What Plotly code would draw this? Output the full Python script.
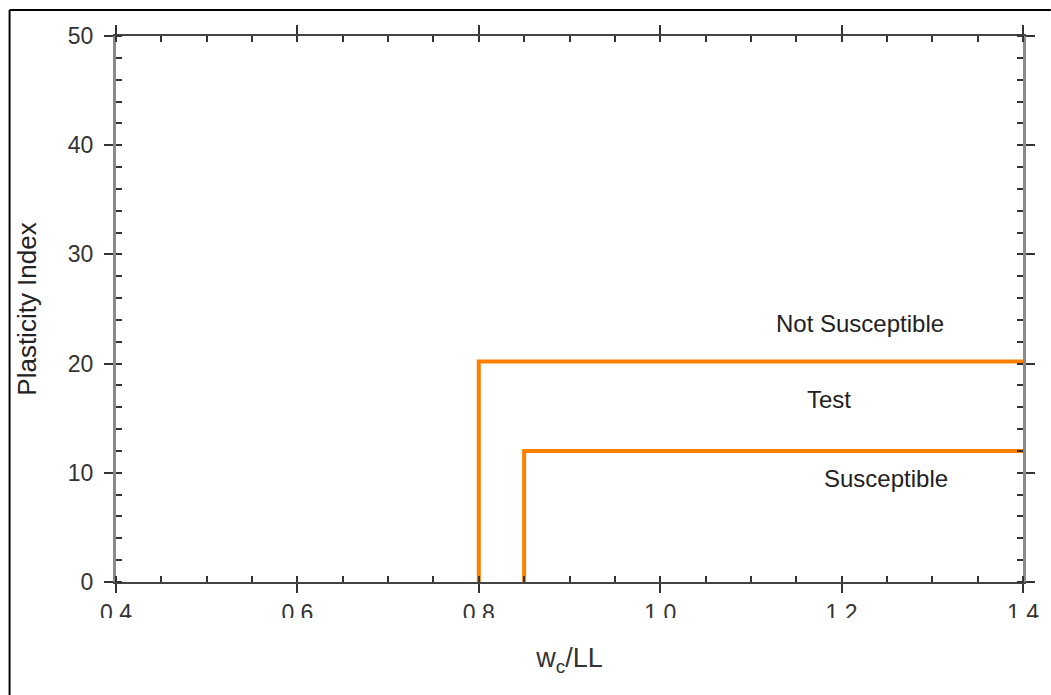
import plotly.graph_objects as go

# Boundary lines of the liquefaction susceptibility chart (w_c/LL vs PI)
upper_x = [0.80, 0.80, 1.40]
upper_y = [0.0, 20.2, 20.2]
lower_x = [0.85, 0.85, 1.40]
lower_y = [0.0, 12.0, 12.0]

# Zone labels
zone_text = ["Not Susceptible", "Test", "Susceptible"]
zone_x = [1.220, 1.186, 1.249]
zone_y = [23.7, 16.7, 9.5]

x_ticks = [0.4, 0.6, 0.8, 1.0, 1.2, 1.4]
x_tick_text = ["0.4", "0.6", "0.8", "1.0", "1.2", "1.4"]
y_ticks = [0, 10, 20, 30, 40, 50]

ORANGE = "#FF8000"
FONT = "Liberation Sans, Arial, sans-serif"

W, H = 1051, 695
L, R, T, B = 116, 23, 36, 113
pw, ph = W - L - R, H - T - B


def px_x(p):
    return (p - L) / pw


def px_y(p):
    return (H - B - p) / ph


fig = go.Figure()
for xs, ys in [(upper_x, upper_y), (lower_x, lower_y)]:
    fig.add_trace(go.Scatter(x=xs, y=ys, mode="lines",
                             line=dict(color=ORANGE, width=4),
                             showlegend=False, hoverinfo="skip"))

for t, x, y in zip(zone_text, zone_x, zone_y):
    fig.add_annotation(x=x, y=y, text=t, showarrow=False,
                       font=dict(family=FONT, size=24, color="#222222"))

fig.update_xaxes(
    range=[0.4, 1.4], tickvals=x_ticks, ticktext=x_tick_text,
    ticks="outside", ticklen=9, tickwidth=2, tickcolor="#333333",
    minor=dict(dtick=0.05, tick0=0.4, ticks="inside", ticklen=6,
               tickwidth=2, tickcolor="#333333", showgrid=False),
    showline=True, linecolor="#444444", linewidth=2, mirror="ticks",
    showgrid=False, zeroline=False,
    tickfont=dict(family=FONT, size=23, color="#333333"),
    ticklabelstandoff=0,
    title=dict(text="w<sub>c</sub>/LL", standoff=24,
               font=dict(family=FONT, size=27, color="#333333")),
)
fig.update_yaxes(
    range=[0, 50], tickvals=y_ticks,
    ticks="outside", ticklen=9, tickwidth=2, tickcolor="#333333",
    minor=dict(dtick=2, tick0=0, ticks="inside", ticklen=6,
               tickwidth=2, tickcolor="#333333", showgrid=False),
    showline=True, linecolor="#8a8a8a", linewidth=3, mirror="ticks",
    showgrid=False, zeroline=False,
    tickfont=dict(family=FONT, size=23, color="#333333"),
    ticklabelstandoff=6,
    title=dict(text="Plasticity Index", standoff=24,
               font=dict(family=FONT, size=26, color="#222222")),
)

# Outer frame (left and top edges) and label cut-off band under the x tick labels
fig.add_shape(type="line", xref="paper", yref="paper",
              x0=px_x(9), x1=px_x(W + 5), y0=px_y(10), y1=px_y(10),
              line=dict(color="black", width=2))
fig.add_shape(type="line", xref="paper", yref="paper",
              x0=px_x(9), x1=px_x(9), y0=px_y(10), y1=px_y(H + 5),
              line=dict(color="black", width=2))
fig.add_shape(type="rect", xref="paper", yref="paper", layer="above",
              x0=px_x(60), x1=px_x(W), y0=px_y(618), y1=px_y(634),
              fillcolor="white", line=dict(width=0))

fig.update_layout(
    width=W, height=H,
    margin=dict(l=L, r=R, t=T, b=B),
    paper_bgcolor="white", plot_bgcolor="white",
    showlegend=False,
)

fig.write_html("out.html")
